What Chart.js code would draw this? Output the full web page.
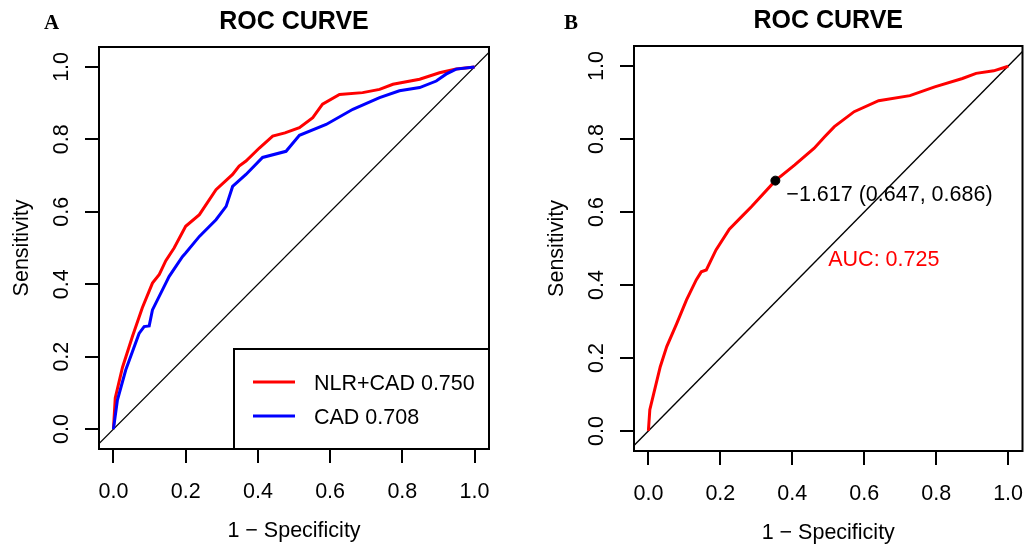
<!DOCTYPE html>
<html>
<head>
<meta charset="utf-8">
<script src="https://cdn.jsdelivr.net/npm/chart.js@4.4.1/dist/chart.umd.min.js"></script>
<style>
  body { margin: 0; background: #fff; }
  #wrap { position: relative; width: 1028px; height: 545px; }
  canvas { position: absolute; top: 0; }
</style>
</head>
<body>
<div id="wrap">
  <canvas id="rocA" width="514" height="545" style="left:0"></canvas>
  <canvas id="rocB" width="514" height="545" style="left:514px"></canvas>
</div>
<script>
// panel A: NLR+CAD (red) and CAD (blue)
const fprNlrCad = [0, 0.005, 0.025, 0.053, 0.080, 0.108, 0.127, 0.145, 0.168, 0.200, 0.238, 0.284, 0.330, 0.348, 0.367, 0.404, 0.441, 0.475, 0.515, 0.552, 0.579, 0.626, 0.690, 0.737, 0.774, 0.848, 0.903, 0.949, 1];
const tprNlrCad = [0, 0.086, 0.170, 0.257, 0.335, 0.403, 0.427, 0.465, 0.500, 0.560, 0.592, 0.661, 0.703, 0.726, 0.740, 0.776, 0.809, 0.818, 0.832, 0.860, 0.897, 0.924, 0.929, 0.938, 0.952, 0.966, 0.984, 0.994, 1];
const fprCad = [0, 0.011, 0.034, 0.071, 0.085, 0.099, 0.108, 0.145, 0.154, 0.191, 0.200, 0.238, 0.284, 0.312, 0.330, 0.367, 0.413, 0.478, 0.515, 0.589, 0.663, 0.737, 0.792, 0.848, 0.894, 0.921, 0.949, 1];
const tprCad = [0, 0.080, 0.163, 0.264, 0.283, 0.285, 0.329, 0.403, 0.421, 0.476, 0.486, 0.532, 0.578, 0.615, 0.670, 0.703, 0.750, 0.767, 0.811, 0.841, 0.883, 0.915, 0.934, 0.943, 0.961, 0.980, 0.994, 1];
const legendLabelsA = ['NLR+CAD 0.750', 'CAD 0.708'];

// panel B: single curve with best threshold
const fprB = [0, 0.004, 0.015, 0.033, 0.051, 0.079, 0.106, 0.133, 0.147, 0.161, 0.188, 0.225, 0.262, 0.287, 0.353, 0.407, 0.461, 0.490, 0.517, 0.572, 0.640, 0.727, 0.796, 0.873, 0.911, 0.960, 0.996, 1];
const tprB = [0, 0.058, 0.103, 0.176, 0.231, 0.295, 0.359, 0.414, 0.436, 0.441, 0.496, 0.553, 0.590, 0.615, 0.686, 0.729, 0.775, 0.806, 0.834, 0.875, 0.905, 0.919, 0.943, 0.966, 0.980, 0.987, 0.998, 1];
const bestPoint = { fpr: 0.353, tpr: 0.686 };
const bestLabel = '\u22121.617 (0.647, 0.686)';
const aucLabelB = 'AUC: 0.725';

const tickValues = [0, 0.2, 0.4, 0.6, 0.8, 1.0];

const FONT = '"Liberation Sans", Arial, sans-serif';

function pts(xs, ys) {
  return xs.map((x, i) => ({ x: x, y: ys[i] }));
}

function scales(yWidth, xHeight) {
  const common = {
    type: 'linear',
    afterBuildTicks: s => { s.ticks = tickValues.map(v => ({ value: v })); },
    grid: { drawOnChartArea: false, drawTicks: true, tickLength: 14, color: '#000', lineWidth: 2 },
    border: { display: false },
    ticks: { display: false }
  };
  return {
    x: Object.assign({}, common, { min: -0.04, max: 1.04, afterFit: s => { s.height = xHeight; } }),
    y: Object.assign({}, common, { min: -0.055, max: 1.055, afterFit: s => { s.width = yWidth; } })
  };
}

// draws the box, tick labels, titles (R base graphics look)
function rFrame(letter, letterX) {
  return {
    id: 'rframe',
    afterDraw(chart) {
      const ctx = chart.ctx;
      const a = chart.chartArea;
      const xs = chart.scales.x, ys = chart.scales.y;
      ctx.save();
      ctx.strokeStyle = '#000';
      ctx.lineWidth = 2;
      ctx.strokeRect(a.left, a.top, a.right - a.left, a.bottom - a.top);

      ctx.fillStyle = '#000';
      ctx.font = '21.5px ' + FONT;
      ctx.textAlign = 'center';
      ctx.textBaseline = 'alphabetic';
      tickValues.forEach(v => {
        ctx.fillText(v.toFixed(1), xs.getPixelForValue(v), a.bottom + 48.5);
        ctx.save();
        ctx.translate(a.left - 31, ys.getPixelForValue(v));
        ctx.rotate(-Math.PI / 2);
        ctx.fillText(v.toFixed(1), 0, 0);
        ctx.restore();
      });
      ctx.fillText('1 \u2212 Specificity', (a.left + a.right) / 2, a.bottom + 87.5);
      ctx.save();
      ctx.translate(a.left - 71, (a.top + a.bottom) / 2);
      ctx.rotate(-Math.PI / 2);
      ctx.fillText('Sensitivity', 0, 0);
      ctx.restore();

      ctx.font = 'bold 25px ' + FONT;
      ctx.fillText('ROC CURVE', (a.left + a.right) / 2, a.top - 18.5);

      ctx.font = 'bold 21px "Liberation Serif", "Times New Roman", serif';
      ctx.textAlign = 'left';
      ctx.fillText(letter, letterX, 29);
      ctx.restore();
    }
  };
}

const legendA = {
  id: 'legendA',
  afterDraw(chart) {
    const ctx = chart.ctx;
    const a = chart.chartArea;
    const left = 234, top = 349;
    ctx.save();
    ctx.fillStyle = '#fff';
    ctx.fillRect(left, top, a.right - left, a.bottom - top);
    ctx.strokeStyle = '#000';
    ctx.lineWidth = 2;
    ctx.strokeRect(left, top, a.right - left, a.bottom - top);
    const rows = [{ y: 382, c: '#ff0000' }, { y: 416, c: '#0000ff' }];
    ctx.font = '21.5px ' + FONT;
    ctx.textAlign = 'left';
    ctx.textBaseline = 'alphabetic';
    rows.forEach((r, i) => {
      ctx.strokeStyle = r.c;
      ctx.lineWidth = 3;
      ctx.beginPath();
      ctx.moveTo(253, r.y);
      ctx.lineTo(295, r.y);
      ctx.stroke();
      ctx.fillStyle = '#000';
      ctx.fillText(legendLabelsA[i], 314, r.y + 8);
    });
    ctx.restore();
  }
};

const notesB = {
  id: 'notesB',
  afterDraw(chart) {
    const ctx = chart.ctx;
    const xs = chart.scales.x, ys = chart.scales.y;
    ctx.save();
    ctx.font = '21.5px ' + FONT;
    ctx.textAlign = 'left';
    ctx.textBaseline = 'alphabetic';
    ctx.fillStyle = '#000';
    ctx.fillText(bestLabel, xs.getPixelForValue(bestPoint.fpr) + 11, ys.getPixelForValue(bestPoint.tpr) + 20.5);
    ctx.fillStyle = '#ff0000';
    ctx.fillText(aucLabelB, xs.getPixelForValue(0.5), ys.getPixelForValue(0.5) + 17);
    ctx.restore();
  }
};

const diag = {
  data: [{ x: -0.1, y: -0.1 }, { x: 1.1, y: 1.1 }],
  showLine: true, borderColor: '#000', borderWidth: 1.3, pointRadius: 0
};

new Chart(document.getElementById('rocA'), {
  type: 'scatter',
  data: {
    datasets: [
      { data: pts(fprCad, tprCad), showLine: true, borderColor: '#0000ff', borderWidth: 3, pointRadius: 0 },
      { data: pts(fprNlrCad, tprNlrCad), showLine: true, borderColor: '#ff0000', borderWidth: 3, pointRadius: 0 },
      diag
    ]
  },
  options: {
    responsive: false,
    animation: false,
    layout: { padding: { left: 0, right: 25, top: 47, bottom: 0 } },
    scales: scales(99, 96),
    plugins: { legend: { display: false }, tooltip: { enabled: false } }
  },
  plugins: [rFrame('A', 44), legendA]
});

new Chart(document.getElementById('rocB'), {
  type: 'scatter',
  data: {
    datasets: [
      { data: [{ x: bestPoint.fpr, y: bestPoint.tpr }], pointRadius: 4.5, backgroundColor: '#000', borderColor: '#000' },
      { data: pts(fprB, tprB), showLine: true, borderColor: '#ff0000', borderWidth: 3, pointRadius: 0 },
      Object.assign({}, diag)
    ]
  },
  options: {
    responsive: false,
    animation: false,
    layout: { padding: { left: 0, right: 1, top: 46, bottom: 0 } },
    scales: scales(120, 94),
    plugins: { legend: { display: false }, tooltip: { enabled: false } }
  },
  plugins: [rFrame('B', 50), notesB]
});
</script>
</body>
</html>
